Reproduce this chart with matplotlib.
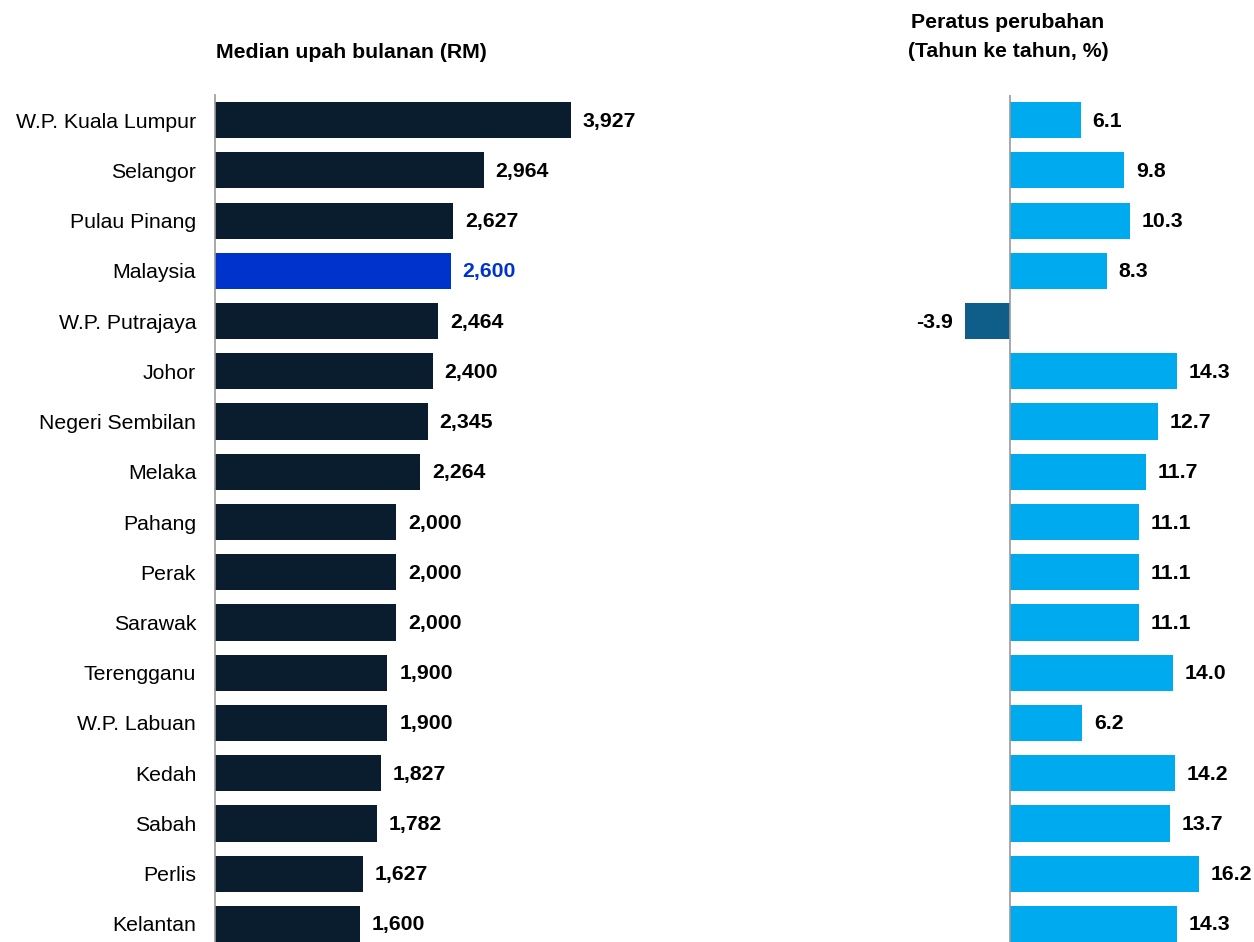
import matplotlib
matplotlib.use("Agg")
from matplotlib import pyplot as plt

plt.rcParams['font.family'] = ['Liberation Sans', 'DejaVu Sans']

states = [
    "W.P. Kuala Lumpur", "Selangor", "Pulau Pinang", "Malaysia", "W.P. Putrajaya",
    "Johor", "Negeri Sembilan", "Melaka", "Pahang", "Perak", "Sarawak",
    "Terengganu", "W.P. Labuan", "Kedah", "Sabah", "Perlis", "Kelantan",
]
median_wage = [3927, 2964, 2627, 2600, 2464, 2400, 2345, 2264, 2000, 2000, 2000,
               1900, 1900, 1827, 1782, 1627, 1600]
yoy_change = [6.1, 9.8, 10.3, 8.3, -3.9, 14.3, 12.7, 11.7, 11.1, 11.1, 11.1,
              14.0, 6.2, 14.2, 13.7, 16.2, 14.3]

NAVY = "#0A1D2E"
HIGHLIGHT = "#0033CC"
LIGHT = "#00AAEE"
NEG = "#0F5E8A"
FS = 15.3

W, H = 1254, 942
fig = plt.figure(figsize=(W / 100, H / 100), dpi=100)


def px_axes(x0, x1, y0, y1):
    # pixel box (top-left origin) -> figure axes
    return fig.add_axes([x0 / W, 1 - y1 / H, (x1 - x0) / W, (y1 - y0) / H])


ypos = list(range(len(states)))
ylim = (16.36, -0.5)

# left panel: median wages
ax1 = px_axes(215, 700, 95, 942)
colors1 = [HIGHLIGHT if s == "Malaysia" else NAVY for s in states]
ax1.barh(ypos, median_wage, height=0.72, color=colors1)
ax1.set_xlim(0, 5347)
ax1.set_ylim(*ylim)
for y, v, c in zip(ypos, median_wage, colors1):
    ax1.text(v + 130, y + 0.02, f"{v:,}", va="center", ha="left", fontsize=FS,
             fontweight="bold", color=HIGHLIGHT if c == HIGHLIGHT else "black")
ax1.set_yticks(ypos)
ax1.set_yticklabels(states, fontsize=FS)
ax1.tick_params(axis="y", length=0, pad=13.5)
ax1.set_xticks([])
for s in ["top", "right", "bottom"]:
    ax1.spines[s].set_visible(False)
ax1.spines["left"].set_color("#999999")
ax1.spines["left"].set_linewidth(1.2)
fig.text(351 / W, 1 - 53 / H, "Median upah bulanan (RM)", ha="center", va="center",
         fontsize=FS, fontweight="bold")

# right panel: yoy change
ax2 = px_axes(900, 1254, 95, 942)
colors2 = [NEG if v < 0 else LIGHT for v in yoy_change]
ax2.barh(ypos, yoy_change, height=0.72, color=colors2)
ax2.set_xlim(-9.44, 20.94)
ax2.set_ylim(*ylim)
for y, v in zip(ypos, yoy_change):
    if v < 0:
        ax2.text(v - 1.0, y + 0.02, f"{v:.1f}", va="center", ha="right", fontsize=FS,
                 fontweight="bold")
    else:
        ax2.text(v + 1.0, y + 0.02, f"{v:.1f}", va="center", ha="left", fontsize=FS,
                 fontweight="bold")
ax2.set_xticks([])
ax2.set_yticks([])
for s in ax2.spines.values():
    s.set_visible(False)
ax2.axvline(0, color="#999999", linewidth=1.2)
fig.text(1008 / W, 1 - 37 / H, "Peratus perubahan\n(Tahun ke tahun, %)", ha="center",
         va="center", fontsize=FS, fontweight="bold", linespacing=1.65)

fig.savefig("out.png", dpi=100)
